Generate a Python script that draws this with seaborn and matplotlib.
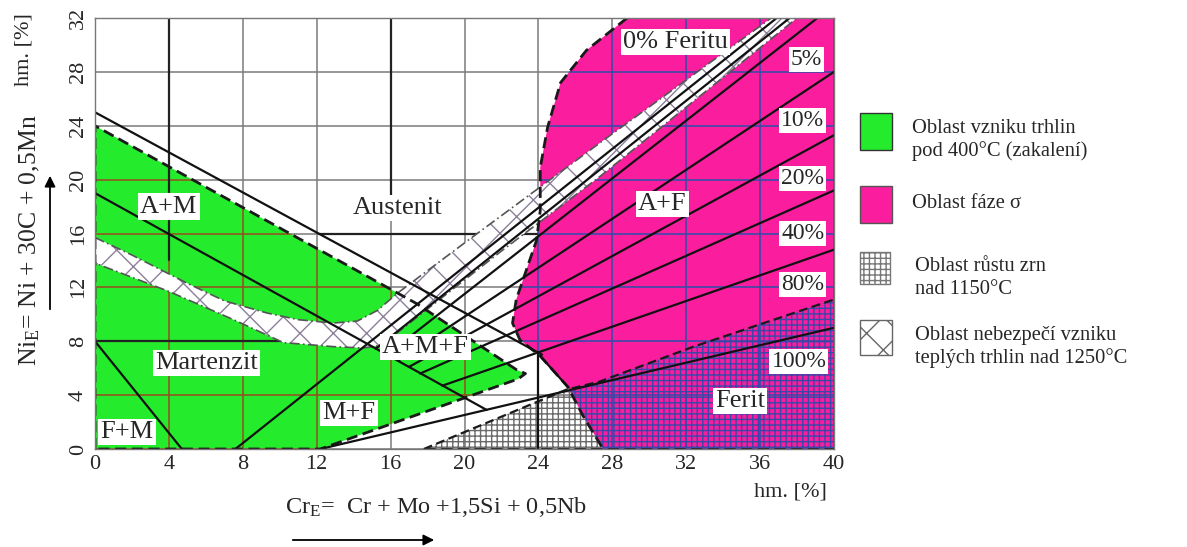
import numpy as np
import pandas as pd
import matplotlib
matplotlib.use("Agg")
import matplotlib.pyplot as plt
import seaborn as sns
from matplotlib.patches import Rectangle, Polygon

# ---------------- data ----------------
x_ticks = [0, 4, 8, 12, 16, 20, 24, 28, 32, 36, 40]
y_ticks = [0, 4, 8, 12, 16, 20, 24, 28, 32]

# straight boundary lines (start -> end, in Cr_E / Ni_E units)
line_names = ["A/A+M", "A+M/M", "F+M", "F0", "F0b", "F5", "F10", "F20",
              "F40", "F80", "F100", "x24", "sigma_edge"]
line_x0 = [0.0, 0.0, 0.0, 7.6, 15.2, 15.8, 16.4, 17.0, 17.6, 18.8, 12.2, 24.0, 24.1]
line_y0 = [25.0, 19.0, 8.0, 0.0, 7.45, 7.0, 6.55, 6.1, 5.6, 4.7, 0.0, 0.0, 6.9]
line_x1 = [24.2, 21.2, 4.7, 36.9, 37.6, 39.1, 40.0, 40.0, 40.0, 40.0, 40.0, 24.0, 25.6]
line_y1 = [7.0, 2.9, 0.0, 32.0, 32.0, 32.0, 28.0, 23.3, 19.2, 14.8, 9.0, 7.0, 4.6]

# emphasised grid segments
thick_x0 = [4, 16, 12.1, 0]
thick_y0 = [14, 17, 16, 8]
thick_x1 = [4, 16, 23.9, 15.2]
thick_y1 = [32, 32, 16, 8]

# green area (cracking below 400 C)
green_x = [0, 0, 17.4, 22.8, 23.3, 22.9, 12.2, 0]
green_y = [0, 24, 10.8, 5.9, 5.6, 5.2, 0, 0]

# pink area (sigma phase)
pink_x = [28.8, 26.6, 25.2, 24.5, 24.1, 24.1, 23.9, 23.4, 22.8, 22.6, 23.0, 24.1,
          25.6, 26.4, 27.5, 40, 40]
pink_y = [32, 29.6, 27.2, 23.9, 20.9, 17.7, 15.5, 13.5, 11.1, 9.35, 8.1, 6.9,
          4.6, 2.5, 0, 0, 32]

# cross-hatched band (hot cracking above 1250 C)
band_x = [0, 2, 5, 7, 9.3, 11, 12.9, 14.2, 15.3, 16.4, 20.1, 27.3, 36.6,
          38.0, 27.3, 22, 18, 15.5, 14.5, 12.9, 10.2, 7.5, 4, 0]
band_y = [15.7, 14.4, 12.3, 11.0, 10.1, 9.6, 9.35, 9.5, 10.3, 11.6, 15.4, 22.7, 32,
          32, 20.2, 14.7, 10.4, 7.7, 7.5, 7.6, 7.9, 9.6, 11.7, 13.8]

# dotted area (grain growth above 1150 C)
dot_x = [17.8, 25.5, 27.3, 32.4, 40, 40, 17.8]
dot_y = [0, 4.4, 5.0, 7.6, 11.1, 0, 0]

# region labels
region_labels = ["A+M", "Austenit", "A+F", "0% Feritu", "Martenzit", "A+M+F",
                 "M+F", "F+M", "Ferit"]
region_x = [4.0, 16.4, 30.7, 31.4, 6.05, 17.9, 13.75, 1.73, 34.9]
region_y = [18.0, 17.9, 18.2, 30.2, 6.4, 7.6, 2.7, 1.25, 3.55]

pct_labels = ["5%", "10%", "20%", "40%", "80%", "100%"]
pct_x = [38.5, 38.3, 38.3, 38.3, 38.3, 38.1]
pct_y = [28.9, 24.4, 20.1, 16.0, 12.2, 6.5]

legend_labels = ["Oblast vzniku trhlin\npod 400°C (zakalení)",
                 "Oblast fáze σ",
                 "Oblast růstu zrn\nnad 1150°C",
                 "Oblast nebezpečí vzniku\nteplých trhlin nad 1250°C"]

GREEN = "#24EC2C"
PINK = "#FA1E9E"

# ---------------- style ----------------
sns.set_style("white")
plt.rcParams['font.family'] = ['Liberation Serif', 'DejaVu Serif']
plt.rcParams['mathtext.fontset'] = 'custom'
plt.rcParams['mathtext.rm'] = 'Liberation Serif'
plt.rcParams['mathtext.it'] = 'Liberation Serif:italic'
plt.rcParams['hatch.linewidth'] = 1.0

W, H = 1187, 547
fig = plt.figure(figsize=(W / 100, H / 100), dpi=100)
ax = fig.add_axes([95 / W, 1 - 449 / H, 739 / W, 431 / H])
ax.set_xlim(0, 40)
ax.set_ylim(0, 32)

# fills
green_poly = ax.fill(green_x, green_y, facecolor=GREEN, lw=0, zorder=1)[0]
pink_poly = ax.fill(pink_x, pink_y, facecolor=PINK, lw=0, zorder=1)[0]

# grain growth dots (grey in white part, blue over pink)
gp = Polygon(np.column_stack([dot_x, dot_y]), closed=True, facecolor='none',
             edgecolor='#6a6a6a', hatch='+++', lw=0, zorder=0.9)
ax.add_patch(gp)
bp = Polygon(np.column_stack([dot_x, dot_y]), closed=True, facecolor='none',
             edgecolor='#3b47a8', hatch='+++', lw=0, zorder=1.6)
ax.add_patch(bp)
bp.set_clip_path(pink_poly)

# grid
for xv in x_ticks:
    ax.axvline(xv, color='#7a7a7a', lw=1.1, zorder=0.5)
    l = ax.axvline(xv, color='#9a4a20', lw=1.1, zorder=1.1)
    l.set_clip_path(green_poly)
    l = ax.axvline(xv, color='#3a4aa8', lw=1.2, zorder=1.1)
    l.set_clip_path(pink_poly)
for yv in y_ticks:
    ax.axhline(yv, color='#7a7a7a', lw=1.1, zorder=0.5)
    l = ax.axhline(yv, color='#9a4a20', lw=1.1, zorder=1.1)
    l.set_clip_path(green_poly)
    l = ax.axhline(yv, color='#3a4aa8', lw=1.2, zorder=1.1)
    l.set_clip_path(pink_poly)

for x0, y0, x1, y1 in zip(thick_x0, thick_y0, thick_x1, thick_y1):
    ax.plot([x0, x1], [y0, y1], color='#222', lw=1.6, zorder=1.2)

# cross-hatched band
band = Polygon(np.column_stack([band_x, band_y]), closed=True, facecolor='white',
               edgecolor='#8c7f9a', hatch='x', lw=0, zorder=1.5)
ax.add_patch(band)
ax.plot(band_x + [band_x[0]], band_y + [band_y[0]], color='#555', lw=1.2,
        ls=(0, (6, 2, 1, 2)), zorder=1.55)

# dashed outlines
ax.plot(green_x + [green_x[0]], green_y + [green_y[0]], color='#1a1a1a', lw=2.0,
        ls=(0, (4, 2)), zorder=2)
ax.plot(pink_x[:15], pink_y[:15], color='#1a1a1a', lw=2.0, ls=(0, (4, 2)), zorder=2)
ax.plot(dot_x[:5], dot_y[:5], color='#1a1a1a', lw=1.6, ls=(0, (4, 2)), zorder=2)
ax.plot([dot_x[0], 40], [0, 0], color='#1a1a1a', lw=2.0, ls=(0, (4, 2)), zorder=2)

# solid lines via seaborn
rows = []
for n, x0, y0, x1, y1 in zip(line_names, line_x0, line_y0, line_x1, line_y1):
    rows.append(dict(line=n, x=x0, y=y0))
    rows.append(dict(line=n, x=x1, y=y1))
df = pd.DataFrame(rows)
sns.lineplot(data=df, x='x', y='y', units='line', estimator=None, sort=False,
             color='#111111', lw=1.6, ax=ax, zorder=3, legend=False)

# labels
box = dict(facecolor='white', edgecolor='none', pad=1.5)
for t, x, y in zip(region_labels, region_x, region_y):
    ax.text(x, y, t, ha='center', va='center', fontsize=19, bbox=box, zorder=5)
for t, x, y in zip(pct_labels, pct_x, pct_y):
    ax.text(x, y, t, ha='center', va='center', fontsize=17, bbox=box, zorder=5)

# axes cosmetics
ax.set_xticks(x_ticks)
ax.set_yticks(y_ticks)
ax.set_xticklabels([str(v) for v in x_ticks], fontsize=16)
ax.set_yticklabels([str(v) for v in y_ticks], fontsize=16, rotation=90, va='center')
ax.tick_params(axis='x', length=0, pad=4)
ax.tick_params(axis='y', length=0, pad=5)
ax.set_xlabel('')
ax.set_ylabel('')
for s in ax.spines.values():
    s.set_color('#777')
    s.set_linewidth(1.0)
    s.set_zorder(4)

# overlay in pixel coordinates for axis titles and legend
lax = fig.add_axes([0, 0, 1, 1])
lax.set_xlim(0, W)
lax.set_ylim(H, 0)
lax.axis('off')

lax.text(436, 507, 'Cr$_\\mathrm{E}$=  Cr + Mo +1,5Si + 0,5Nb', ha='center', va='center',
         fontsize=17.5)
lax.annotate('', xy=(437, 540), xytext=(290, 540),
             arrowprops=dict(arrowstyle='-|>', color='black', lw=1.3, mutation_scale=16))
lax.text(790, 492, 'hm. [%]', ha='center', va='center', fontsize=16)

lax.text(30, 240, 'Ni$_\\mathrm{E}$= Ni + 30C + 0,5Mn', ha='center', va='center',
         fontsize=18.5, rotation=90)
lax.annotate('', xy=(50, 173), xytext=(50, 312),
             arrowprops=dict(arrowstyle='-|>', color='black', lw=1.3, mutation_scale=16))
lax.text(24, 50, 'hm. [%]', ha='center', va='center', fontsize=16, rotation=90)

# legend
lax.add_patch(Rectangle((860, 113), 32, 37, facecolor=GREEN, edgecolor='#333', lw=1))
lax.add_patch(Rectangle((860, 186), 32, 37, facecolor=PINK, edgecolor='#555', lw=1))
lax.add_patch(Rectangle((860, 252), 30, 32, facecolor='white', edgecolor='#777',
                        hatch='+++', lw=1))
lax.add_patch(Rectangle((860, 320), 32, 35, facecolor='white', edgecolor='#666',
                        hatch='x', lw=1))
leg_text_x = [912, 912, 915, 915]
leg_text_y = [140, 204, 278, 347]
for t, x, y in zip(legend_labels, leg_text_x, leg_text_y):
    lax.text(x, y, t, ha='left', va='center', fontsize=14.8, linespacing=1.25)

fig.savefig('out.png', dpi=100)
